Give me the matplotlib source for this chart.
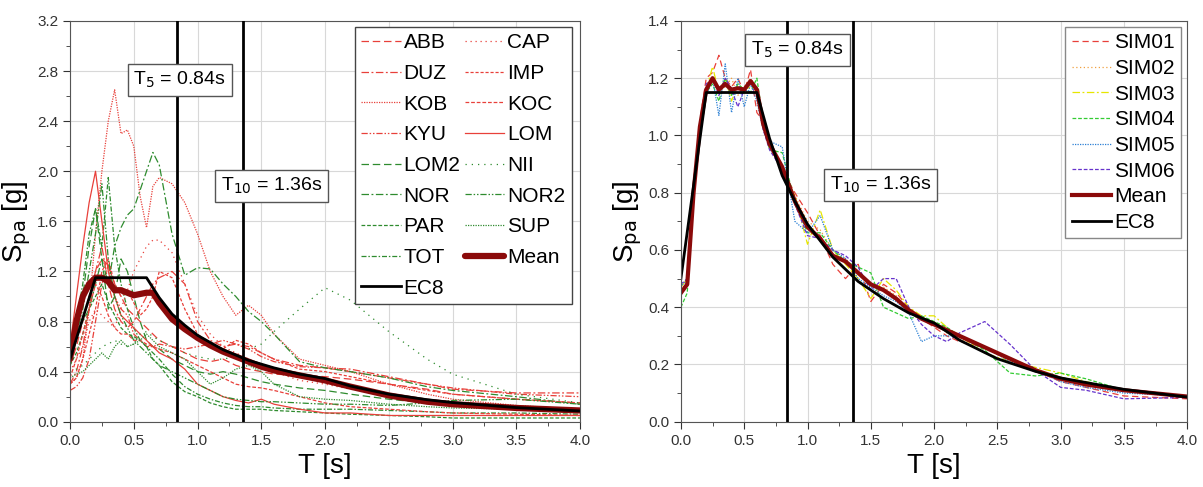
import matplotlib.pyplot as plt
import numpy as np
from matplotlib.ticker import MultipleLocator

plt.rcParams['font.family'] = ['Liberation Sans', 'DejaVu Sans']

# periods used for the recorded spectra (left) [s]
T_rec = [0, 0.05, 0.1, 0.15, 0.2, 0.25, 0.3, 0.35, 0.4, 0.45, 0.5, 0.55, 0.6, 0.65, 0.7,
         0.8, 0.9, 1.0, 1.1, 1.2, 1.3, 1.4, 1.5, 1.6, 1.8, 2.0, 2.2, 2.5, 2.8, 3.0, 3.5, 4.0]

ABB = [0.45, 0.6, 0.8, 1.0, 1.2, 1.3, 1.25, 1.1, 1.0, 0.9, 0.85, 0.8, 0.75, 0.7, 0.65, 0.6,
       0.55, 0.5, 0.48, 0.5, 0.45, 0.42, 0.4, 0.38, 0.37, 0.36, 0.34, 0.3, 0.26, 0.22, 0.18, 0.15]
CAP = [0.4, 0.5, 0.6, 0.8, 0.9, 0.85, 0.8, 0.75, 0.9, 1.05, 1.2, 1.3, 1.4, 1.45, 1.45, 1.35,
       1.1, 0.85, 0.7, 0.6, 0.55, 0.5, 0.45, 0.4, 0.33, 0.3, 0.26, 0.2, 0.15, 0.12, 0.1, 0.08]
DUZ = [0.3, 0.4, 0.6, 0.9, 1.2, 1.4, 1.1, 0.9, 0.8, 0.75, 0.8, 0.9, 1.0, 1.1, 1.15, 1.2,
       1.1, 0.8, 0.65, 0.6, 0.62, 0.6, 0.55, 0.5, 0.45, 0.43, 0.42, 0.36, 0.3, 0.26, 0.23, 0.23]
IMP = [0.3, 0.35, 0.5, 0.7, 0.9, 1.2, 1.3, 1.1, 1.0, 1.05, 0.95, 0.85, 0.9, 1.0, 1.2, 1.15,
       0.9, 0.7, 0.62, 0.58, 0.65, 0.62, 0.55, 0.5, 0.42, 0.4, 0.36, 0.3, 0.25, 0.22, 0.18, 0.15]
KOB = [0.3, 0.35, 0.5, 0.9, 1.5, 2.0, 2.4, 2.65, 2.3, 2.33, 2.2, 1.8, 1.55, 1.88, 1.95, 1.9,
       1.75, 1.5, 1.2, 1.0, 0.85, 0.93, 0.85, 0.7, 0.5, 0.45, 0.4, 0.3, 0.22, 0.18, 0.13, 0.1]
KOC = [0.35, 0.5, 0.7, 0.9, 1.1, 1.0, 0.85, 0.75, 0.7, 0.7, 0.65, 0.65, 0.62, 0.6, 0.58, 0.55,
       0.5, 0.45, 0.4, 0.35, 0.3, 0.28, 0.27, 0.25, 0.2, 0.15, 0.12, 0.1, 0.08, 0.07, 0.06, 0.05]
KYU = [0.25, 0.28, 0.35, 0.5, 0.8, 1.1, 1.25, 1.0, 0.9, 0.85, 0.7, 0.65, 0.6, 0.6, 0.62, 0.6,
       0.58, 0.6, 0.62, 0.65, 0.62, 0.58, 0.52, 0.48, 0.44, 0.43, 0.4, 0.35, 0.3, 0.27, 0.22, 0.2]
LOM = [0.6, 1.0, 1.4, 1.75, 2.0, 1.6, 1.2, 1.0, 0.85, 0.8, 0.75, 0.7, 0.65, 0.6, 0.55, 0.5,
       0.42, 0.3, 0.25, 0.2, 0.17, 0.15, 0.18, 0.14, 0.1, 0.07, 0.07, 0.05, 0.05, 0.05, 0.05, 0.05]
LOM2 = [0.6, 0.8, 1.0, 1.4, 1.7, 1.3, 0.9, 1.0, 1.3, 1.2, 1.0, 0.8, 0.65, 0.6, 0.58, 0.5,
        0.45, 0.4, 0.38, 0.4, 0.38, 0.35, 0.32, 0.3, 0.27, 0.25, 0.22, 0.18, 0.15, 0.13, 0.1, 0.08]
NII = [0.4, 0.42, 0.45, 0.5, 0.55, 0.6, 0.62, 0.65, 0.62, 0.6, 0.62, 0.7, 0.72, 0.68, 0.65, 0.6,
       0.55, 0.52, 0.5, 0.5, 0.52, 0.58, 0.62, 0.72, 0.9, 1.07, 0.97, 0.72, 0.5, 0.38, 0.22, 0.15]
NOR = [0.65, 0.7, 0.8, 0.9, 1.1, 1.3, 1.1, 1.4, 1.55, 1.65, 1.7, 1.85, 2.0, 2.15, 2.05, 1.5,
       1.17, 1.23, 1.22, 1.1, 1.0, 0.88, 0.8, 0.7, 0.48, 0.43, 0.4, 0.35, 0.28, 0.25, 0.2, 0.14]
NOR2 = [0.55, 0.7, 0.9, 1.2, 1.5, 1.9, 1.3, 1.0, 0.85, 0.75, 0.65, 0.6, 0.55, 0.5, 0.45, 0.4,
        0.35, 0.3, 0.25, 0.2, 0.18, 0.17, 0.16, 0.16, 0.15, 0.14, 0.14, 0.13, 0.15, 0.17, 0.18, 0.14]
PAR = [0.45, 0.55, 0.7, 0.9, 1.0, 1.1, 0.95, 0.85, 0.75, 0.7, 0.68, 0.65, 0.6, 0.5, 0.45, 0.32,
       0.24, 0.2, 0.15, 0.12, 0.1, 0.1, 0.1, 0.09, 0.08, 0.07, 0.06, 0.05, 0.04, 0.03, 0.03, 0.03]
SUP = [0.35, 0.38, 0.4, 0.45, 0.5, 0.55, 0.5, 0.6, 0.65, 0.6, 0.62, 0.65, 0.7, 0.65, 0.6, 0.55,
       0.5, 0.4, 0.3, 0.35, 0.42, 0.45, 0.4, 0.3, 0.2, 0.18, 0.17, 0.14, 0.12, 0.11, 0.1, 0.09]
TOT = [0.6, 0.8, 1.1, 1.5, 1.7, 1.4, 1.95, 1.4, 1.1, 0.9, 0.75, 0.65, 0.6, 0.55, 0.5, 0.38,
       0.28, 0.22, 0.18, 0.15, 0.13, 0.12, 0.12, 0.11, 0.1, 0.1, 0.1, 0.09, 0.08, 0.07, 0.07, 0.06]

mean_rec = [0.5, 0.8, 1.0, 1.1, 1.15, 1.15, 1.12, 1.05, 1.05, 1.03, 1.01, 1.02, 1.03, 1.03, 0.95, 0.82,
            0.74, 0.67, 0.61, 0.56, 0.52, 0.48, 0.44, 0.41, 0.37, 0.33, 0.28, 0.21, 0.16, 0.14, 0.11, 0.09]

# EC8 design spectrum
T_ec8 = [0, 0.2, 0.6, 0.7, 0.8, 0.9, 1.0, 1.2, 1.4, 1.6, 1.8, 2.0, 2.2, 2.5, 2.8, 3.0, 3.5, 4.0]
ec8 = [0.5, 1.15, 1.15, 0.99, 0.86, 0.77, 0.69, 0.575, 0.49, 0.43, 0.38, 0.345, 0.285, 0.22,
       0.176, 0.153, 0.113, 0.086]

# simulated spectra (right)
T_sim = [0, 0.05, 0.1, 0.15, 0.2, 0.25, 0.3, 0.35, 0.4, 0.45, 0.5, 0.55, 0.6, 0.65, 0.7, 0.8,
         0.9, 1.0, 1.1, 1.2, 1.3, 1.4, 1.5, 1.6, 1.7, 1.8, 1.9, 2.0, 2.1, 2.2, 2.4, 2.6, 2.8,
         3.0, 3.2, 3.5, 4.0]
SIM01 = [0.45, 0.48, 0.8, 1.05, 1.2, 1.22, 1.28, 1.2, 1.17, 1.2, 1.15, 1.23, 1.08, 1.05, 0.98, 0.88,
         0.8, 0.73, 0.65, 0.55, 0.5, 0.55, 0.42, 0.48, 0.45, 0.4, 0.36, 0.33, 0.3, 0.28, 0.26, 0.22,
         0.18, 0.14, 0.12, 0.09, 0.08]
SIM02 = [0.46, 0.49, 0.78, 1.02, 1.17, 1.2, 1.15, 1.17, 1.2, 1.14, 1.17, 1.2, 1.14, 1.04, 0.98, 0.89,
         0.79, 0.7, 0.67, 0.6, 0.57, 0.52, 0.47, 0.47, 0.44, 0.39, 0.36, 0.35, 0.31, 0.29, 0.26, 0.21,
         0.18, 0.15, 0.13, 0.11, 0.09]
SIM03 = [0.47, 0.5, 0.79, 1.03, 1.16, 1.24, 1.15, 1.2, 1.12, 1.18, 1.16, 1.17, 1.15, 1.05, 0.97, 0.87,
         0.79, 0.62, 0.74, 0.6, 0.55, 0.5, 0.43, 0.5, 0.46, 0.4, 0.37, 0.37, 0.33, 0.3, 0.24, 0.21,
         0.19, 0.17, 0.14, 0.11, 0.09]
SIM04 = [0.4, 0.45, 0.78, 1.02, 1.15, 1.18, 1.12, 1.2, 1.14, 1.18, 1.16, 1.15, 1.2, 1.05, 0.95, 0.94,
         0.77, 0.66, 0.66, 0.6, 0.56, 0.54, 0.52, 0.4, 0.38, 0.36, 0.37, 0.35, 0.33, 0.3, 0.25, 0.17,
         0.16, 0.17, 0.15, 0.11, 0.09]
SIM05 = [0.47, 0.5, 0.8, 1.03, 1.14, 1.2, 1.07, 1.25, 1.08, 1.2, 1.1, 1.18, 1.12, 1.02, 0.98, 0.96,
         0.7, 0.66, 0.72, 0.6, 0.57, 0.5, 0.47, 0.44, 0.42, 0.38, 0.28, 0.3, 0.3, 0.3, 0.26, 0.21,
         0.18, 0.14, 0.12, 0.1, 0.09]
SIM06 = [0.48, 0.5, 0.8, 1.04, 1.18, 1.2, 1.14, 1.2, 1.16, 1.1, 1.16, 1.15, 1.17, 1.02, 0.95, 0.88,
         0.76, 0.65, 0.64, 0.6, 0.58, 0.54, 0.46, 0.5, 0.5, 0.4, 0.34, 0.3, 0.28, 0.31, 0.35, 0.27,
         0.18, 0.12, 0.11, 0.08, 0.085]
mean_sim = [0.45, 0.48, 0.8, 1.03, 1.16, 1.2, 1.16, 1.18, 1.16, 1.165, 1.16, 1.19, 1.16, 1.04, 0.97,
            0.89, 0.77, 0.68, 0.64, 0.58, 0.56, 0.52, 0.48, 0.46, 0.43, 0.39, 0.36, 0.34, 0.32, 0.3,
            0.26, 0.22, 0.18, 0.15, 0.13, 0.11, 0.088]

red = '#e8403a'
green = '#2e8b2e'
dkred = '#8b0a0a'
lw = 0.9

rec_series = [
    ('ABB', ABB, red, (0, (6, 3))),
    ('DUZ', DUZ, red, (0, (6, 2, 1.5, 2))),
    ('KOB', KOB, red, (0, (1, 1))),
    ('KYU', KYU, red, (0, (5, 1.5, 1.2, 1.5, 1.2, 1.5))),
    ('LOM2', LOM2, green, (0, (6, 3))),
    ('NOR', NOR, green, (0, (6, 2, 1.5, 2))),
    ('PAR', PAR, green, (0, (3, 1.5))),
    ('TOT', TOT, green, (0, (4, 1.5, 1.2, 1.5))),
    ('CAP', CAP, red, (0, (1, 3))),
    ('IMP', IMP, red, (0, (2.5, 1.5))),
    ('KOC', KOC, red, (0, (3, 1.5))),
    ('LOM', LOM, red, '-'),
    ('NII', NII, green, (0, (1, 4))),
    ('NOR2', NOR2, green, (0, (5, 1.5, 1.2, 1.5, 1.2, 1.5))),
    ('SUP', SUP, green, (0, (1, 1))),
]

fig = plt.figure(figsize=(12.03, 4.87), dpi=100)
ax1 = fig.add_axes([0.0582, 0.134, 0.424, 0.823])
ax2 = fig.add_axes([0.566, 0.134, 0.421, 0.823])

handles = {}
for name, vals, col, ls in rec_series:
    h, = ax1.plot(T_rec, vals, color=col, lw=lw, ls=ls, label=name)
    handles[name] = h
h_mean, = ax1.plot(T_rec, mean_rec, color=dkred, lw=4.5, label='Mean', solid_capstyle='round')
h_ec8, = ax1.plot(T_ec8, ec8, color='black', lw=2, label='EC8')
handles['Mean'] = h_mean
handles['EC8'] = h_ec8

order = ['ABB', 'DUZ', 'KOB', 'KYU', 'LOM2', 'NOR', 'PAR', 'TOT', 'EC8',
         'CAP', 'IMP', 'KOC', 'LOM', 'NII', 'NOR2', 'SUP', 'Mean']
leg1 = ax1.legend([handles[n] for n in order], order, ncol=2, loc='upper right',
                  bbox_to_anchor=(0.992, 0.995), fontsize=15, handlelength=1.9,
                  handletextpad=0.15, columnspacing=0.2, labelspacing=0.56,
                  fancybox=False, edgecolor='#444444', framealpha=1, borderpad=0.3,
                  borderaxespad=0.2)
leg1.get_frame().set_linewidth(1.0)

sim_series = [
    ('SIM01', SIM01, '#e8403a', (0, (5, 3))),
    ('SIM02', SIM02, '#f0a040', (0, (1, 2))),
    ('SIM03', SIM03, '#e6e600', (0, (6, 2, 1.5, 2))),
    ('SIM04', SIM04, '#33cc33', (0, (3, 1.5))),
    ('SIM05', SIM05, '#2a7fd4', (0, (1, 1))),
    ('SIM06', SIM06, '#6633cc', (0, (3, 1.5))),
]
for name, vals, col, ls in sim_series:
    ax2.plot(T_sim, vals, color=col, lw=lw, ls=ls, label=name)
ax2.plot(T_sim, mean_sim, color=dkred, lw=3, label='Mean')
ax2.plot(T_ec8, ec8, color='black', lw=2, label='EC8')
leg2 = ax2.legend(loc='upper right', bbox_to_anchor=(0.996, 0.995), fontsize=15,
                  handlelength=1.9, handletextpad=0.15, labelspacing=0.32,
                  fancybox=False, edgecolor='#888888', framealpha=1, borderpad=0.3,
                  borderaxespad=0.2)

box = dict(boxstyle='square,pad=0.3', fc='white', ec='#555555', lw=1)
for ax, ymax, major, minor, t5y, t10y in [(ax1, 3.2, 0.4, 0.2, 2.73, 1.88),
                                           (ax2, 1.4, 0.2, 0.1, 1.30, 0.826)]:
    ax.axvline(0.84, color='black', lw=2, zorder=5)
    ax.axvline(1.36, color='black', lw=2, zorder=5)
    ax.text(0.86 if ax is ax1 else 0.92, t5y, r'T$_5$ = 0.84s', fontsize=14, ha='center',
            va='center', bbox=box, zorder=6)
    ax.text(1.58, t10y, r'T$_{10}$ = 1.36s', fontsize=14, ha='center', va='center',
            bbox=box, zorder=6)
    ax.set_xlim(0, 4.0)
    ax.set_ylim(0, ymax)
    ax.xaxis.set_major_locator(MultipleLocator(0.5))
    ax.xaxis.set_minor_locator(MultipleLocator(0.25))
    ax.yaxis.set_major_locator(MultipleLocator(major))
    ax.yaxis.set_minor_locator(MultipleLocator(minor))
    ax.xaxis.set_major_formatter(plt.FormatStrFormatter('%.1f'))
    ax.yaxis.set_major_formatter(plt.FormatStrFormatter('%.1f'))
    ax.grid(True, which='major', color='#d8d8d8', lw=0.8)
    ax.set_axisbelow(True)
    ax.tick_params(which='both', direction='out', labelsize=11, colors='#333333')
    ax.tick_params(which='major', length=5)
    ax.tick_params(which='minor', length=3)
    for s in ax.spines.values():
        s.set_color('#555555')
    ax.set_xlabel('T [s]', fontsize=20, labelpad=4)
    ax.set_ylabel(r'S$_{\mathrm{pa}}$ [g]', fontsize=20, labelpad=3)

fig.savefig('out.png', dpi=100)
